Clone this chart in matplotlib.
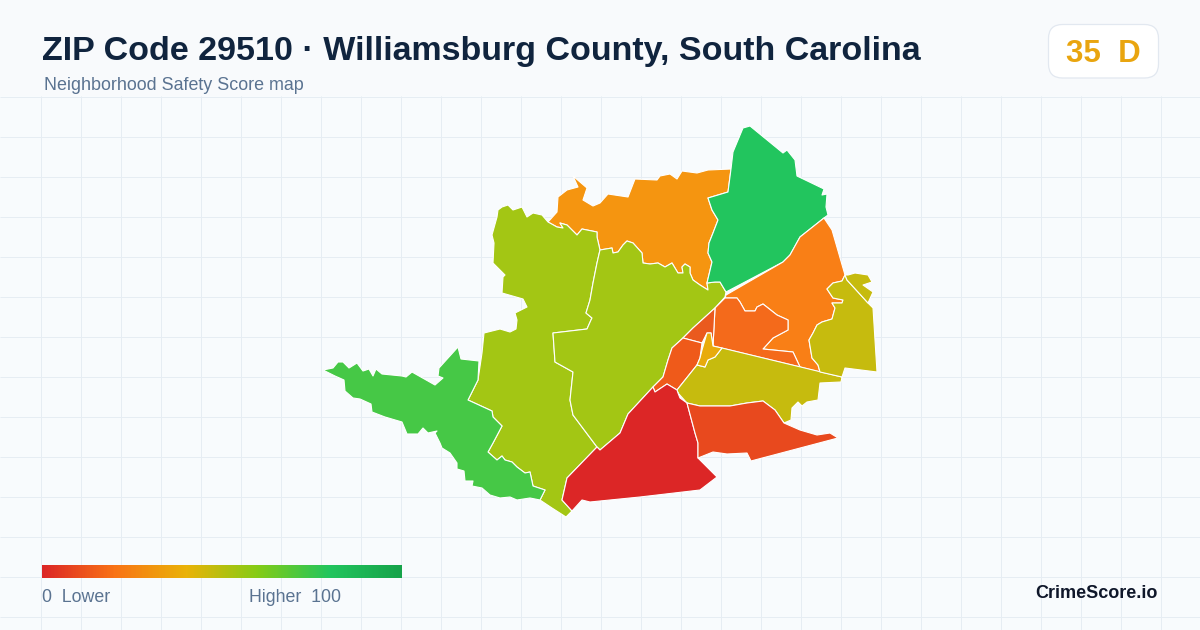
"""Recreate the ZIP 29510 safety score map card."""
import matplotlib
matplotlib.use('Agg')
import matplotlib.pyplot as plt
from matplotlib.colors import LinearSegmentedColormap
from matplotlib.patches import FancyBboxPatch, Polygon, Rectangle
import numpy as np

plt.rcParams['font.family'] = ['Liberation Sans', 'DejaVu Sans']

# shared borders between zones
orange_south = [(708, 290), (700, 285), (693, 280), (690, 273), (690, 267), (685, 264), (682, 267), (683, 273),
                (678, 273), (672, 263), (665, 267), (658, 263), (650, 264), (643, 263), (642, 253), (633, 243),
                (627, 241), (623, 245), (618, 252), (613, 253), (612, 248), (600, 250)]
orange_green = [(731, 169), (728, 192), (708, 198), (712, 210), (718, 220), (713, 233), (709, 243), (708, 253),
                (712, 262), (707, 283)]
inner_lime = [(600, 250), (597, 263), (593, 283), (590, 300), (586, 313), (592, 318), (591, 320), (587, 329),
              (553, 333), (555, 362), (573, 372), (570, 400), (573, 415), (597, 447)]
lime_green = [(478, 380), (468, 400), (492, 411), (493, 417), (502, 426), (493, 443), (488, 452), (497, 460),
              (502, 456), (505, 460), (512, 462), (517, 467), (525, 473), (530, 472), (533, 486), (545, 490),
              (540, 500)]
green_ne_south = [(726, 295), (783, 262), (790, 255), (800, 237), (824, 218)]
orange_olive = [(845, 275), (842, 281), (833, 283), (827, 289), (833, 298), (843, 300), (842, 303), (832, 303),
                (835, 308), (832, 319), (822, 322), (817, 325), (813, 333), (809, 340), (812, 358), (818, 365),
                (820, 372)]
orange_inner = [(800, 367), (793, 352), (763, 349), (773, 338), (788, 330), (788, 320), (777, 315), (763, 304),
                (757, 307), (755, 311), (745, 311), (740, 302), (737, 298), (725, 298)]
lime_edge = [(725, 297), (715, 308), (693, 328), (683, 338), (672, 348), (668, 360), (663, 377), (653, 387),
             (628, 414), (620, 433), (600, 450), (597, 447)]
yellow_east = [(705, 367), (708, 360), (715, 357), (722, 348)]
olive_red = [(677, 390), (678, 393), (680, 398), (687, 403)]
olive_south = [(687, 403), (700, 406), (730, 406), (747, 403), (763, 401), (775, 410), (784, 423)]
red_south = [(687, 403), (695, 433), (698, 443), (698, 458)]

zone_north_orange = ([(548, 222), (557, 212), (558, 197), (567, 190), (578, 187), (573, 176), (587, 188), (583, 200),
                      (593, 206), (600, 203), (608, 194), (628, 197), (635, 179), (657, 180), (660, 176), (670, 174),
                      (677, 179), (682, 171), (697, 173), (708, 170)] + orange_green + orange_south
                     + [(597, 237), (597, 232), (582, 229), (577, 235), (567, 225), (560, 223), (563, 228),
                        (557, 227)])
zone_west_lime = ([(498, 210), (502, 207), (508, 205), (513, 210), (522, 207), (527, 217), (533, 213), (542, 215),
                   (548, 222), (557, 227), (563, 228), (560, 223), (567, 225), (577, 235), (582, 229), (597, 232),
                   (597, 237)] + inner_lime + [(567, 478), (562, 500), (572, 511), (566, 517), (552, 508)]
                  + lime_green[::-1]
                  + [(482, 353), (484, 333), (500, 329), (510, 332), (516, 329), (517, 320), (515, 313), (527, 307),
                     (523, 299), (502, 293), (503, 277), (505, 275), (493, 263), (494, 243), (492, 235), (497, 217)])
zone_mid_lime = (orange_south[::-1] + [(707, 283), (715, 282), (720, 282), (726, 292)] + lime_edge + inner_lime[::-1])
zone_sw_green = ([(323, 370), (333, 368), (338, 362), (343, 362), (349, 368), (357, 363), (363, 371), (369, 369),
                  (373, 376), (376, 369), (382, 374), (402, 376), (406, 377), (412, 372), (435, 385), (443, 378),
                  (438, 376), (439, 368), (458, 347), (461, 359), (479, 361)] + lime_green
                 + [(530, 498), (517, 500), (510, 497), (500, 498), (490, 495), (482, 488), (472, 486), (473, 481),
                    (465, 481), (464, 471), (457, 469), (457, 463), (450, 453), (442, 448), (440, 443), (435, 433),
                    (437, 431), (428, 433), (423, 428), (418, 434), (407, 434), (402, 422), (385, 417), (372, 412),
                    (371, 404), (360, 399), (353, 398), (345, 391), (344, 380), (335, 376)])
zone_ne_green = ([(750, 126), (743, 128), (733, 152)] + orange_green + [(715, 282), (720, 282), (726, 292)]
                 + green_ne_south[1:]
                 + [(828, 215), (826, 207), (827, 194), (822, 195), (824, 189), (797, 176), (795, 160), (787, 150),
                    (783, 153)])
zone_ne_orange = green_ne_south + [(832, 230)] + orange_olive + orange_inner
zone_center_orange = orange_inner + [(715, 308), (713, 346)]
zone_wedge = [(715, 308), (693, 328), (683, 338), (702, 343), (707, 333), (711, 333), (713, 346)]
zone_strip = ([(683, 338), (702, 343), (700, 358), (697, 365)] + [(677, 390), (667, 384), (655, 392), (653, 387),
              (663, 377), (668, 360), (672, 348)])
zone_yellow = [(707, 333), (711, 333), (713, 346), (722, 348), (715, 357), (708, 360), (705, 367), (697, 365),
               (700, 358), (702, 350)]
zone_south_olive = ([(677, 390), (697, 365)] + yellow_east + [(842, 377), (841, 382), (820, 383), (818, 400), (807, 402),
                    (802, 406), (798, 402), (792, 408), (791, 420)] + olive_south[::-1] + olive_red[1:-1])
zone_east_olive = (orange_olive + [(842, 377), (845, 368), (877, 372), (873, 308), (868, 303), (847, 280)])
zone_ne_olive = [(845, 275), (848, 275), (855, 273), (868, 275), (872, 282), (863, 285), (873, 292), (868, 303),
                 (847, 280)]
zone_red = ([(667, 384), (655, 392), (653, 387), (628, 414), (620, 433), (600, 450), (597, 447), (567, 478), (562, 500),
             (572, 511), (582, 500), (590, 502), (640, 497), (700, 490), (717, 477)] + red_south[::-1]
            + olive_red[::-1])
zone_se_orange = (olive_south + [(800, 430), (817, 435), (830, 433), (838, 438), (751, 461), (747, 453), (727, 454),
                  (713, 452), (698, 458)] + red_south[::-1][1:-1])

zones = [zone_north_orange, zone_west_lime, zone_mid_lime, zone_sw_green, zone_ne_green, zone_ne_orange,
         zone_center_orange, zone_wedge, zone_strip, zone_south_olive, zone_east_olive, zone_ne_olive, zone_red,
         zone_se_orange, zone_yellow]
zone_colors = ['#f59510', '#a3c614', '#a3c614', '#46c846', '#22c55e', '#f97f16',
               '#f46a1b', '#ea5a1e', '#ef5a1a', '#c6bb0e', '#c6bb0e', '#c6bb0e', '#dc2626', '#e8491e',
               '#e8ab0c']

legend_colors = ['#dc2626', '#f97316', '#eab308', '#84cc16', '#22c55e', '#16a34a']

title = 'ZIP Code 29510 · Williamsburg County, South Carolina'
subtitle = 'Neighborhood Safety Score map'
score_text = '35  D'

fig = plt.figure(figsize=(12, 6.3), dpi=100, facecolor='#f8fafc')
ax = fig.add_axes([0, 0, 1, 1])
ax.set_xlim(0, 1200)
ax.set_ylim(630, 0)
ax.axis('off')

# grid only below the header
ax.add_patch(Rectangle((0, 96), 1200, 534, facecolor='#f8fbfd', edgecolor='none', zorder=0))
ax.vlines(np.arange(40, 1200, 40) + 0.5, 96, 630, color='#e6edf3', lw=0.72, zorder=1)
ax.hlines(np.arange(97, 630, 40) - 0.5, 0, 1200, color='#e6edf3', lw=0.72, zorder=1)

for pts, col in zip(zones, zone_colors):
    ax.add_patch(Polygon(pts, closed=True, facecolor=col, edgecolor='white', lw=0.8, joinstyle='round', zorder=3))

ax.text(42, 48, title, fontsize=24.45, fontweight='bold', color='#10243e', va='center_baseline', ha='left', zorder=5)
ax.text(44, 84, subtitle, fontsize=12.9, color='#5a7391', va='center_baseline', ha='left', zorder=5)

# score badge
ax.add_patch(FancyBboxPatch((1048.5, 24.5), 110, 53.5, boxstyle='round,pad=0,rounding_size=14', facecolor='white',
                            edgecolor='#e2e8f0', lw=0.9, zorder=4))
ax.text(1103, 51, score_text, fontsize=22.5, fontweight='bold', color='#e9a50f', va='center_baseline', ha='center',
        zorder=5)

# legend
cmap = LinearSegmentedColormap.from_list('score', legend_colors)
ax.imshow(np.linspace(0, 1, 360).reshape(1, -1), cmap=cmap, extent=(42, 402, 578, 565), aspect='auto', zorder=4)
ax.set_xlim(0, 1200)
ax.set_ylim(630, 0)
ax.text(42, 596, '0  Lower', fontsize=12.8, color='#5a7391', va='center_baseline', ha='left', zorder=5)
ax.text(249, 596, 'Higher  100', fontsize=12.8, color='#5a7391', va='center_baseline', ha='left', zorder=5)
ax.text(1158, 592, 'CrimeScore.io', fontsize=13, fontweight='bold', color='#0f172a', va='center_baseline', ha='right',
        zorder=5)

fig.savefig('out.png', dpi=100, facecolor=fig.get_facecolor())
